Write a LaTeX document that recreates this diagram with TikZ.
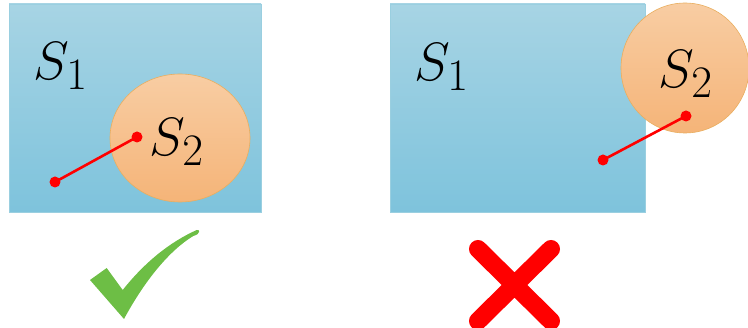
\documentclass[tikz,border=0pt]{standalone}
\usetikzlibrary{shapes.geometric}
\definecolor{recttop}{HTML}{A7D4E4}
\definecolor{rectbot}{HTML}{7EC3DC}
\definecolor{rectedge}{HTML}{9ACFE0}
\definecolor{elltop}{HTML}{F8CDA3}
\definecolor{ellbot}{HTML}{F5B478}
\definecolor{elledge}{HTML}{E9AE5F}
\definecolor{checkgreen}{HTML}{6DBE45}
\definecolor{xred}{HTML}{FF0000}
\newcommand{\biglabel}[1]{\scalebox{2.17}{\Huge$#1$}}
\begin{document}
\begin{tikzpicture}[x=1pt,y=-1pt,
  setbox/.style={rectangle, draw=rectedge, line width=0.6pt, top color=recttop, bottom color=rectbot, inner sep=0pt},
  setell/.style={ellipse, draw=elledge, line width=0.6pt, top color=elltop, bottom color=ellbot, inner sep=0pt},
  setlabel/.style={inner sep=0pt},
  reddot/.style={circle, fill=xred, inner sep=0pt, minimum size=11pt},
  redline/.style={draw=xred, line width=2.6pt}]
\useasboundingbox (0,0) rectangle (748,328);
% left panel
\node[setbox, minimum width=252pt, minimum height=208pt] (r1) at (135,108) {};
\node[setell, minimum width=140pt, minimum height=128pt] (e1) at (180,138) {};
\node[setlabel] (s1a) at (61,66) {\biglabel{S_1}};
\node[setlabel] (s2a) at (177,142) {\biglabel{S_2}};
\node[reddot] (pa) at (55,182) {};
\node[reddot] (qa) at (137,137) {};
\draw[redline] (pa.center) -- (qa.center);
% right panel
\node[setbox, minimum width=255pt, minimum height=208pt] (r2) at (517.5,108) {};
\node[setell, minimum width=128pt, minimum height=130pt] (e2) at (685,68) {};
\node[setlabel] (s1b) at (442,67) {\biglabel{S_1}};
\node[setlabel] (s2b) at (686,74) {\biglabel{S_2}};
\node[reddot] (pb) at (603,160) {};
\node[reddot] (qb) at (686,116) {};
\draw[redline] (pb.center) -- (qb.center);
% check mark
\fill[checkgreen] (90,280) -- (106.7,268) -- (122.7,290)
  .. controls (145,262) and (170,242) .. (196.7,230)
  .. controls (200,229) and (201,234) .. (193.3,236)
  .. controls (170,250) and (145,280) .. (124,319) -- cycle;
% cross
\draw[xred, line width=18pt, line cap=round] (478,249) -- (551,321) (551,249) -- (478,321);
\end{tikzpicture}
\end{document}
